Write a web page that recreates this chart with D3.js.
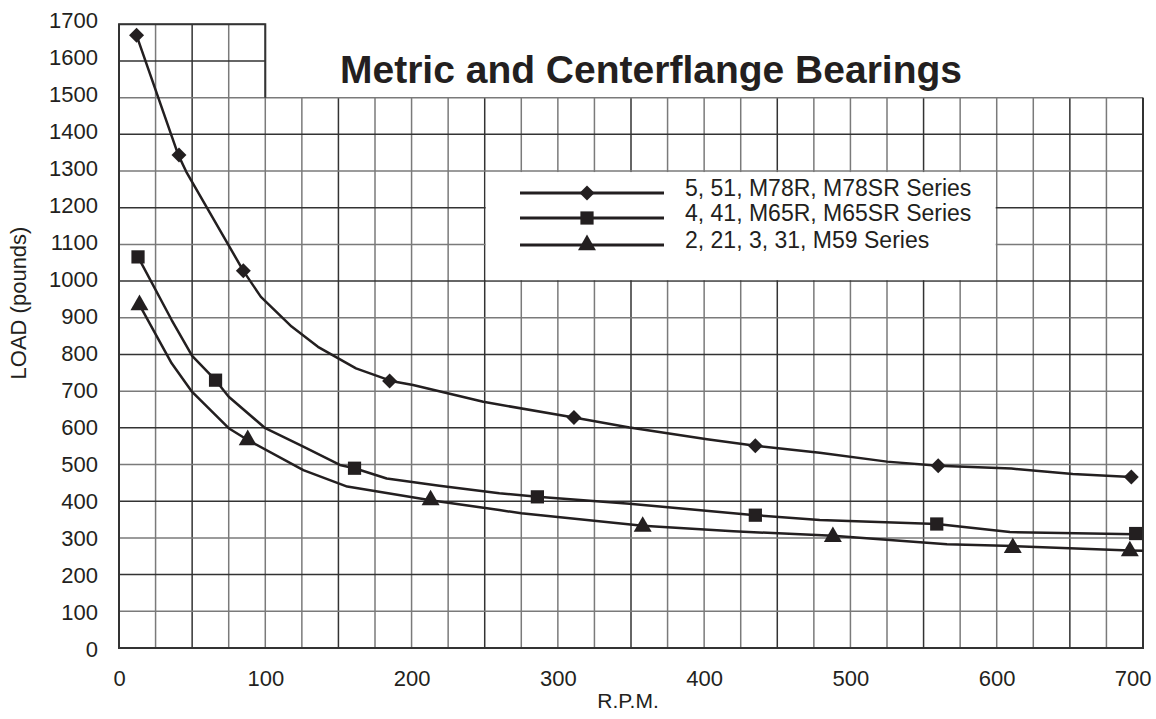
<!DOCTYPE html>
<html>
<head>
<meta charset="utf-8">
<script src="https://cdn.jsdelivr.net/npm/d3@7"></script>
<style>
  html, body { margin: 0; padding: 0; background: #fff; }
  svg { display: block; }
  text { font-family: "Liberation Sans", Arial, Helvetica, sans-serif; fill: #231f20; }
</style>
</head>
<body>
<svg id="chart" width="1156" height="719"></svg>
<script>
// ---------- data ----------
const title = "Metric and Centerflange Bearings";
const xLabel = "R.P.M.";
const yLabel = "LOAD (pounds)";
const xTicks = [0, 100, 200, 300, 400, 500, 600, 700];
const yTicks = [0, 100, 200, 300, 400, 500, 600, 700, 800, 900, 1000, 1100, 1200, 1300, 1400, 1500, 1600, 1700];
const seriesNames = ["5, 51, M78R, M78SR Series", "4, 41, M65R, M65SR Series", "2, 21, 3, 31, M59 Series"];
const seriesSymbols = ["diamond", "square", "triangle"];

// curve points (rpm, load)
const line78 = [[12,1670],[40.5,1344],[46,1298],[85,1028],[97,957],[118,876],[136,821],[162,762],[186,728],[201,717],[249,671],[311,628],[349,601],[402,569],[435,551],[479,532],[525,508],[560,497],[610,489],[652,474],[692,466]];
const line65 = [[13,1066],[36,894],[50,796],[66,730],[75,685],[100,599],[126,549],[151,499],[161,490],[183,462],[219,442],[260,422],[286,412],[349,393],[435,362],[479,349],[559,338],[609,316],[695,310]];
const line59 = [[14,935],[36,776],[50,698],[75,599],[88,567],[126,485],[156,440],[213,403],[260,376],[275,367],[358,333],[420,318],[488,306],[566,283],[611,278],[691,266],[700,265]];
// marker points
const marks78 = [[12,1670],[41,1344],[85,1028],[185,728],[311,628],[435,551],[560,497],[692,466]];
const marks65 = [[13,1066],[66,730],[161,490],[286,412],[435,362],[559,338],[695,312]];
const marks59 = [[14,935],[88,567],[213,403],[358,331],[488,303],[611,273],[691,264]];

const lines = [line78, line65, line59];
const marks = [marks78, marks65, marks59];

// ---------- layout ----------
const svg = d3.select("#chart");
const ink = "#231f20";
const gridCol = "#7a7a7a";

const x = d3.scaleLinear().domain([0, 700]).range([119, 1143]);
const y = d3.scaleLinear().domain([0, 1700]).range([648, 24.3]);
const yLab = d3.scaleLinear().domain([0, 1700]).range([649.5, 20.5]);

const xGrid = d3.range(0, 701, 25);
const yGrid = d3.range(0, 1701, 100);

// grid
const g = svg.append("g");
g.selectAll("line.v").data(xGrid).join("line")
  .attr("x1", d => x(d)).attr("x2", d => x(d))
  .attr("y1", y(0))
  .attr("y2", d => d <= 100 ? y(1700) : y(1500))
  .attr("stroke", d => d % 100 === 50 ? "#333" : gridCol)
  .attr("stroke-width", 1.5);
g.selectAll("line.h").data(yGrid).join("line")
  .attr("y1", d => y(d)).attr("y2", d => y(d))
  .attr("x1", x(0))
  .attr("x2", d => d > 1500 ? x(100) : x(700))
  .attr("stroke", d => d % 200 === 0 ? "#333" : gridCol)
  .attr("stroke-width", 1.5);

// legend background (hides interior grid)
svg.append("rect")
  .attr("x", x(250) + 1).attr("y", y(1300) + 1)
  .attr("width", x(600) - x(250) - 2).attr("height", y(1000) - y(1300) - 2)
  .attr("fill", "#fff");

// outline
const outline = d3.path();
outline.moveTo(x(700), y(1500));
outline.lineTo(x(700), y(0));
outline.lineTo(x(0), y(0));
outline.lineTo(x(0), y(1700));
outline.lineTo(x(100), y(1700));
outline.lineTo(x(100), y(1500));
svg.append("path").attr("d", outline.toString())
  .attr("fill", "none").attr("stroke", "#333").attr("stroke-width", 2);

// axes labels (ticks)
const xAxis = svg.append("g")
  .attr("transform", `translate(0,${y(0)})`)
  .call(d3.axisBottom(x).tickValues(xTicks).tickSize(0).tickPadding(22).tickFormat(d3.format("d")));
xAxis.select(".domain").remove();
xAxis.selectAll("text").style("font-size", "22px").attr("fill", ink)
  .attr("text-anchor", d => d === 700 ? "end" : "middle")
  .attr("dx", d => d === 700 ? 8 : 0);

const yAxis = svg.append("g")
  .attr("transform", "translate(98,0)")
  .call(d3.axisLeft(yLab).tickValues(yTicks).tickSize(0).tickPadding(0).tickFormat(d3.format("d")));
yAxis.select(".domain").remove();
yAxis.selectAll("text").style("font-size", "22px").attr("fill", ink);

// axis titles
svg.append("text").attr("x", 628).attr("y", 708)
  .attr("text-anchor", "middle").style("font-size", "21px").text(xLabel);
svg.append("text")
  .attr("transform", "translate(26,303) rotate(-90)")
  .attr("text-anchor", "middle").style("font-size", "22px").text(yLabel);

// title
svg.append("text").attr("x", 651).attr("y", 83)
  .attr("text-anchor", "middle").style("font-size", "39px").style("font-weight", "bold")
  .text(title);

// symbols
const symType = { diamond: d3.symbolSquare, square: d3.symbolSquare, triangle: d3.symbolTriangle };
const symSize = { diamond: 112, square: 175, triangle: 140 };
const symRot = { diamond: 45, square: 0, triangle: 0 };
const symbolPath = s => d3.symbol().type(symType[s]).size(symSize[s])();

// series lines
const lineGen = d3.line().x(d => x(d[0])).y(d => y(d[1]));
lines.forEach((pts, i) => {
  svg.append("path").datum(pts).attr("d", lineGen)
    .attr("fill", "none").attr("stroke", ink).attr("stroke-width", 2.5)
    .attr("stroke-linejoin", "round");
});
marks.forEach((pts, i) => {
  const s = seriesSymbols[i];
  svg.append("g").selectAll("path").data(pts).join("path")
    .attr("transform", d => `translate(${x(d[0])},${y(d[1])}) rotate(${symRot[s]})`)
    .attr("d", symbolPath(s))
    .attr("fill", ink);
});

// legend
const legendLineY = [193, 218, 245];
const lg = svg.append("g");
seriesNames.forEach((name, i) => {
  const s = seriesSymbols[i];
  lg.append("line").attr("x1", 520).attr("x2", 664)
    .attr("y1", legendLineY[i]).attr("y2", legendLineY[i])
    .attr("stroke", ink).attr("stroke-width", 3);
  lg.append("path").attr("transform", `translate(587,${legendLineY[i]}) rotate(${symRot[s]})`)
    .attr("d", symbolPath(s)).attr("fill", ink);
  lg.append("text").attr("x", 685).attr("y", legendLineY[i] + 3)
    .style("font-size", "23px").text(name);
});
</script>
</body>
</html>
